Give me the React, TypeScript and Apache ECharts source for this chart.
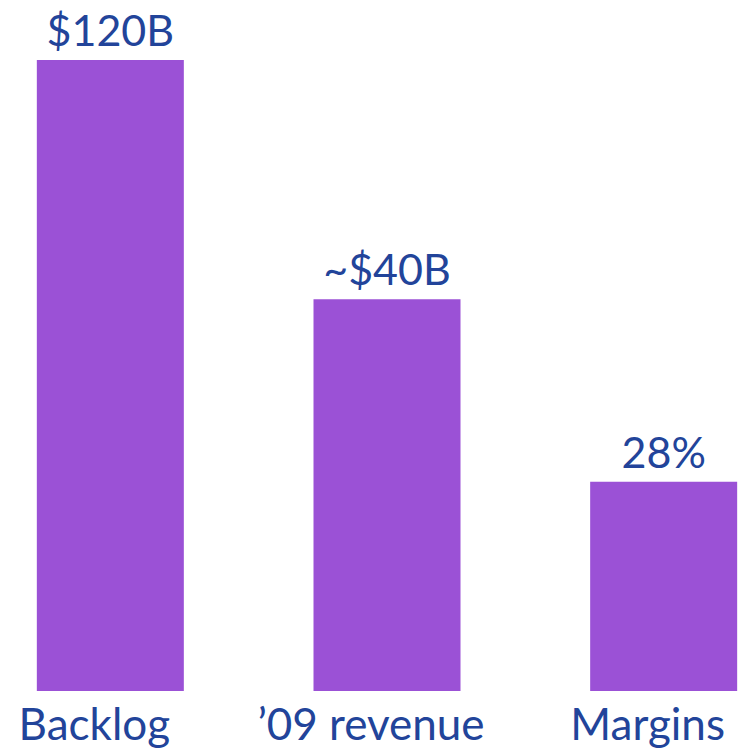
import React, { useEffect, useRef } from "react";
import * as echarts from "echarts";

// Categories shown under the bars
const categories = ["Backlog", "’09 revenue", "Margins"];
// Bar heights as drawn (display units, Backlog = 120)
const barHeights = [120, 74.5, 39.8];
// Value labels printed above each bar
const valueLabels = ["$120B", "~$40B", "28%"];

const TEXT_COLOR = "#22449a";
const BAR_COLOR = "#9b51d6";
const FONT = "Lato";

export default function App() {
  const ref = useRef<HTMLDivElement>(null);
  useEffect(() => {
    if (!ref.current) return;
    const chart = echarts.init(ref.current, undefined, { renderer: "svg" });
    chart.setOption({
      animation: false,
      grid: {
        left: -28,
        width: 830,
        top: 60,
        bottom: 58,
        containLabel: false,
        outerBoundsMode: "none",
      },
      xAxis: {
        type: "category",
        data: categories,
        axisLine: { show: false },
        axisTick: { show: false },
        axisLabel: {
          color: TEXT_COLOR,
          fontFamily: FONT,
          fontSize: 44,
          margin: 10,
          padding: [0, 32, 0, 0],
          interval: 0,
        },
      },
      yAxis: {
        type: "value",
        min: 0,
        max: 120,
        show: false,
        splitLine: { show: false },
      },
      series: [
        {
          type: "bar",
          data: barHeights,
          barWidth: 147,
          itemStyle: { color: BAR_COLOR },
          label: {
            show: true,
            position: "top",
            distance: 9,
            color: TEXT_COLOR,
            fontFamily: FONT,
            fontSize: 43,
            formatter: (p: any) => valueLabels[p.dataIndex],
          },
        },
      ],
    });
    return () => chart.dispose();
  }, []);
  return (
    <div
      ref={ref}
      style={{ position: "fixed", left: 0, top: 0, width: 738, height: 749, background: "#fff" }}
    />
  );
}
